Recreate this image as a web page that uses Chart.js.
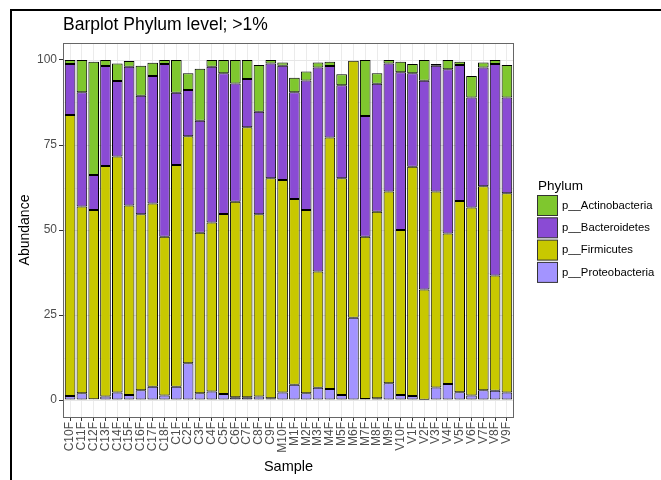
<!DOCTYPE html>
<html>
<head>
<meta charset="utf-8">
<script src="https://cdn.jsdelivr.net/npm/chart.js@4.4.1/dist/chart.umd.min.js"></script>
<style>
  html, body { margin: 0; padding: 0; background: #ffffff; }
  #wrap { width: 661px; height: 480px; position: relative; }
</style>
</head>
<body>
<div id="wrap"><canvas id="chart" width="661" height="480"></canvas></div>
<script>
// Samples along the x axis
const samples = [
  'C10F','C11F','C12F','C13F','C14F','C15F','C16F','C17F','C18F',
  'C1F','C2F','C3F','C4F','C5F','C6F','C7F','C8F','C9F',
  'M10F','M1F','M2F','M3F','M4F','M5F','M6F','M7F','M8F','M9F',
  'V10F','V1F','V2F','V3F','V4F','V5F','V6F','V7F','V8F','V9F'
];

// Relative abundance (%) per phylum, one value per sample
const proteobacteria = [1.2,2,0.2,1,2.2,1.5,2.9,3.9,1.3, 3.9,10.8,2,2.5,1.8,0.8,0.8,1,0.5, 2.2,4.5,2,3.6,3.2,1.5,24.2,0.3,0.5,4.9, 1.5,1.2,0.1,3.7,4.7,2.3,1.3,2.9,2.7,2.2];
const firmicutes     = [82.6,54.9,55.7,67.8,69.4,55.7,51.7,53.9,46.7, 65.2,66.8,47.2,49.7,52.9,57.5,79.4,53.6,64.7, 62.5,54.6,53.9,34.2,74,63.7,75.6,47.7,54.9,56.4, 48.5,67.4,32.4,57.6,44.3,56.2,55.3,60,33.9,58.6];
const bacteroidetes  = [15,33.6,10.3,29.4,22.2,40.8,34.9,37.5,50.8, 21.3,13.6,32.9,45.8,41.4,34.8,14.2,30.2,33.8, 33.6,31.4,38.1,60,21,27.4,0,35.5,37.6,37.7, 46.4,27.5,61.4,37,48.3,40,32.4,34.9,62.2,28.2];
const actinobacteria = [1.2,9.5,33.3,1.8,5.2,1.7,8.8,3.9,1.2, 9.6,4.9,15.3,2,3.9,6.9,5.6,13.7,1, 1,4.3,2.6,1.5,1.3,3.2,0,16.5,3.1,1, 3.1,2.7,6.1,0.5,2.7,1,6.3,1.5,1.2,9.5];

const yTicks = [0, 25, 50, 75, 100];
const yMinor = [12.5, 37.5, 62.5, 87.5];

const FONT = '"Liberation Sans", Arial, sans-serif';

// Panel rectangle in canvas pixels
const PANEL = { left: 63, right: 514, top: 43, bottom: 417 };
// ggplot-style discrete expansion (0.6 of a category each side vs 0.5)
const catW = (PANEL.right - PANEL.left) / (samples.length + 0.2);
const inset = 0.1 * catW;

function ds(label, data, color) {
  return {
    label, data,
    backgroundColor: color,
    borderColor: '#000000',
    borderWidth: 1,
    borderSkipped: false,
    barPercentage: 0.9,
    categoryPercentage: 1.0
  };
}

const decor = {
  id: 'decor',
  beforeDatasetsDraw(chart) {
    const ctx = chart.ctx;
    const y = chart.scales.y;
    ctx.save();
    ctx.lineWidth = 1;
    ctx.strokeStyle = '#f3f3f3';
    yMinor.forEach(v => {
      const py = Math.round(y.getPixelForValue(v)) + 0.5;
      ctx.beginPath(); ctx.moveTo(PANEL.left, py); ctx.lineTo(PANEL.right, py); ctx.stroke();
    });
    ctx.strokeStyle = '#e6e6e6';
    yTicks.forEach(v => {
      const py = Math.round(y.getPixelForValue(v)) + 0.5;
      ctx.beginPath(); ctx.moveTo(PANEL.left, py); ctx.lineTo(PANEL.right, py); ctx.stroke();
    });
    ctx.restore();
  },
  afterDraw(chart) {
    const ctx = chart.ctx;
    ctx.save();
    // panel border
    ctx.strokeStyle = '#666666';
    ctx.lineWidth = 1;
    ctx.strokeRect(PANEL.left + 0.5, PANEL.top + 0.5, PANEL.right - PANEL.left - 1, PANEL.bottom - PANEL.top);

    // outer frame
    ctx.strokeStyle = '#000000';
    ctx.lineWidth = 2;
    ctx.beginPath();
    ctx.moveTo(11, 482); ctx.lineTo(11, 10); ctx.lineTo(663, 10);
    ctx.stroke();

    // title
    ctx.fillStyle = '#000000';
    ctx.font = '17.5px ' + FONT;
    ctx.textAlign = 'left';
    ctx.textBaseline = 'alphabetic';
    ctx.fillText('Barplot Phylum level; >1%', 63, 30);

    // axis titles
    ctx.font = '14.5px ' + FONT;
    ctx.textAlign = 'center';
    ctx.fillText('Sample', (PANEL.left + PANEL.right) / 2, 471);
    ctx.save();
    ctx.translate(25, (PANEL.top + PANEL.bottom) / 2);
    ctx.rotate(-Math.PI / 2);
    ctx.textBaseline = 'middle';
    ctx.font = '14px ' + FONT;
    ctx.fillText('Abundance', 0, 0);
    ctx.restore();

    // legend (top of stack first)
    ctx.textAlign = 'left';
    ctx.textBaseline = 'alphabetic';
    ctx.font = '13.5px ' + FONT;
    ctx.fillText('Phylum', 538, 190);
    const items = chart.data.datasets.slice().reverse();
    ctx.font = '11.3px ' + FONT;
    items.forEach((d, i) => {
      const by = 195 + i * 22.3;
      ctx.fillStyle = d.backgroundColor;
      ctx.fillRect(537.5, by + 0.5, 20, 20);
      ctx.strokeStyle = '#333333';
      ctx.lineWidth = 1;
      ctx.strokeRect(537.5, by + 0.5, 20, 20);
      ctx.fillStyle = '#000000';
      ctx.textBaseline = 'middle';
      ctx.fillText(d.label, 562, by + 10.5);
    });
    ctx.restore();
  }
};

new Chart(document.getElementById('chart'), {
  type: 'bar',
  data: {
    labels: samples,
    datasets: [
      ds('p__Proteobacteria', proteobacteria, '#a394ff'),
      ds('p__Firmicutes', firmicutes, '#c8c800'),
      ds('p__Bacteroidetes', bacteroidetes, '#8a4bd4'),
      ds('p__Actinobacteria', actinobacteria, '#7fc72e')
    ]
  },
  options: {
    responsive: false,
    animation: false,
    layout: {
      padding: { left: 0, top: PANEL.top, right: 661 - (PANEL.right - inset), bottom: 0 }
    },
    plugins: {
      legend: { display: false },
      title: { display: false },
      tooltip: { enabled: false }
    },
    scales: {
      x: {
        stacked: true,
        offset: true,
        afterFit(scale) { scale.height = 480 - PANEL.bottom; },
        border: { display: false },
        grid: {
          offset: false,
          color: '#ebebeb',
          lineWidth: 1,
          tickColor: '#333333',
          tickLength: 4,
          drawOnChartArea: true
        },
        ticks: {
          autoSkip: false,
          minRotation: 90,
          maxRotation: 90,
          padding: 1,
          color: '#4d4d4d',
          font: { family: FONT, size: 12 }
        }
      },
      y: {
        stacked: true,
        min: -5,
        max: 105,
        afterFit(scale) { scale.width = PANEL.left + inset; },
        afterBuildTicks(scale) { scale.ticks = yTicks.map(v => ({ value: v })); },
        border: { display: false },
        grid: {
          drawOnChartArea: false,
          tickColor: '#333333',
          tickLength: 4 + inset
        },
        ticks: {
          padding: 2,
          color: '#4d4d4d',
          font: { family: FONT, size: 12 }
        }
      }
    }
  },
  plugins: [decor]
});
</script>
</body>
</html>
